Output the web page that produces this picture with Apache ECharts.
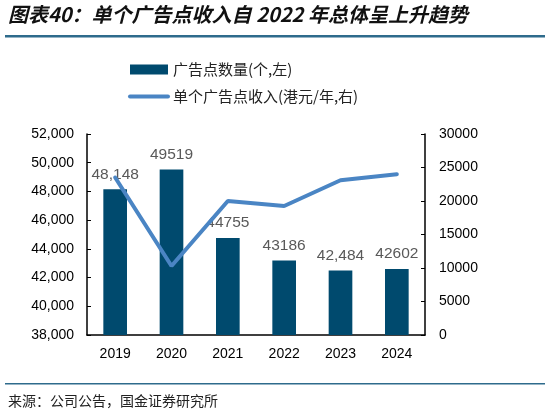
<!DOCTYPE html>
<html>
<head>
<meta charset="utf-8">
<script src="https://cdn.jsdelivr.net/npm/echarts@6/dist/echarts.min.js"></script>
<style>
  html, body { margin: 0; padding: 0; background: #fff; }
  #chart { width: 547px; height: 417px; }
</style>
</head>
<body>
<div id="chart"></div>
<script>
  var YEARS = ['2019', '2020', '2021', '2022', '2023', '2024'];
  var AD_POINTS = [48148, 49519, 44755, 43186, 42484, 42602];
  var AD_POINT_LABELS = ['48,148', '49519', '44755', '43186', '42,484', '42602'];
  var REVENUE_PER_POINT = [23500, 10300, 20000, 19250, 23100, 24000];

  var CJK = '"Noto Sans CJK SC", sans-serif';
  var NUM = '"Liberation Sans", Arial, sans-serif';
  var BAR = '#004a6e';
  var LINE = '#4a85c4';
  var RULE = '#2e6b8c';

  var chart = echarts.init(document.getElementById('chart'));

  chart.setOption({
    backgroundColor: '#fff',
    animation: false,
    graphic: [
      {
        type: 'text', left: 8, top: 4,
        style: {
          text: '图表40：单个广告点收入自 2022 年总体呈上升趋势',
          font: 'italic bold 20px ' + CJK, fill: '#111'
        }
      },
      { type: 'rect', shape: { x: 5, y: 35, width: 540, height: 2.5 }, style: { fill: RULE } },
      { type: 'rect', shape: { x: 5, y: 383, width: 540, height: 1.5 }, style: { fill: RULE } },
      {
        type: 'text', left: 8, top: 394,
        style: { text: '来源：公司公告，国金证券研究所', font: '14px ' + CJK, fill: '#222' }
      }
    ],
    legend: {
      orient: 'vertical',
      left: 123,
      top: 57,
      itemGap: 12,
      itemWidth: 38,
      itemHeight: 10,
      textStyle: { fontFamily: CJK, fontSize: 15, color: '#222' },
      data: [
        { name: '广告点数量(个,左)', icon: 'rect' },
        {
          name: '单个广告点收入(港元/年,右)',
          itemStyle: { color: 'rgba(0,0,0,0)', borderWidth: 0 },
          lineStyle: { width: 4, cap: 'round' }
        }
      ]
    },
    grid: { left: 87, right: 122, top: 134, bottom: 82 },
    xAxis: {
      type: 'category',
      data: YEARS,
      axisLine: { lineStyle: { color: '#000', width: 1.5 } },
      axisTick: { inside: true, length: 5, lineStyle: { color: '#000' } },
      axisLabel: { fontFamily: NUM, fontSize: 14, color: '#000', margin: 12 }
    },
    yAxis: [
      {
        type: 'value',
        min: 38000, max: 52000, interval: 2000,
        axisLine: { show: true, lineStyle: { color: '#000', width: 1.5 } },
        axisTick: { show: true, inside: true, length: 4, lineStyle: { color: '#000' } },
        splitLine: { show: false },
        axisLabel: {
          fontFamily: NUM, fontSize: 14, color: '#000', margin: 13,
          formatter: function (v) { return v.toLocaleString('en-US'); }
        }
      },
      {
        type: 'value',
        min: 0, max: 30000, interval: 5000,
        axisLine: { show: true, lineStyle: { color: '#000', width: 1.5 } },
        axisTick: { show: true, inside: true, length: 4, lineStyle: { color: '#000' } },
        splitLine: { show: false },
        axisLabel: {
          fontFamily: NUM, fontSize: 14, color: '#000', margin: 14,
          formatter: function (v) { return String(v); }
        }
      }
    ],
    series: [
      {
        name: '广告点数量(个,左)',
        type: 'bar',
        yAxisIndex: 0,
        barWidth: '42%',
        itemStyle: { color: BAR },
        label: {
          show: true, position: 'top', distance: 7,
          fontFamily: NUM, fontSize: 15.5, color: '#595959',
          formatter: function (p) { return AD_POINT_LABELS[p.dataIndex]; }
        },
        data: AD_POINTS
      },
      {
        name: '单个广告点收入(港元/年,右)',
        type: 'line',
        yAxisIndex: 1,
        symbol: 'none',
        lineStyle: { color: LINE, width: 4, cap: 'round' },
        itemStyle: { color: LINE },
        z: 3,
        data: REVENUE_PER_POINT
      }
    ]
  });
</script>
</body>
</html>
